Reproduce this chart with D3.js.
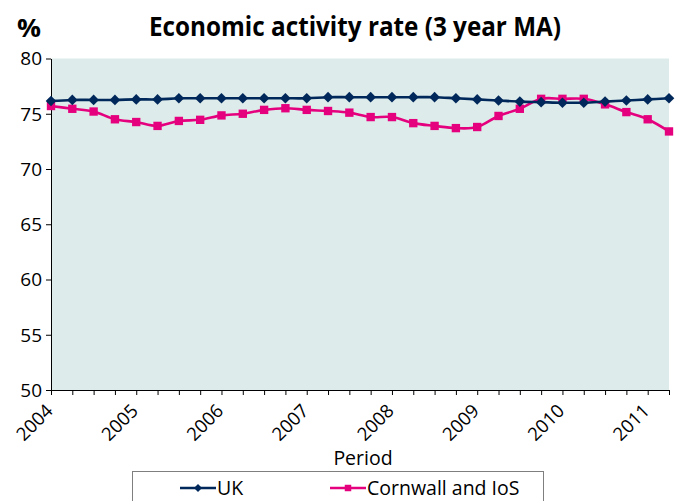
<!DOCTYPE html>
<html>
<head>
<meta charset="utf-8">
<script src="https://cdn.jsdelivr.net/npm/d3@7"></script>
<style>
  html, body { margin: 0; padding: 0; background: #ffffff; }
  svg { display: block; }
  text { font-family: "Open Sans", "DejaVu Sans", sans-serif; fill: #000; }
</style>
</head>
<body>
<svg id="chart" width="676" height="501"></svg>
<script>
// Quarterly periods, 2004 Q1 to 2011 Q2
const periods = [
  "2004Q1","2004Q2","2004Q3","2004Q4",
  "2005Q1","2005Q2","2005Q3","2005Q4",
  "2006Q1","2006Q2","2006Q3","2006Q4",
  "2007Q1","2007Q2","2007Q3","2007Q4",
  "2008Q1","2008Q2","2008Q3","2008Q4",
  "2009Q1","2009Q2","2009Q3","2009Q4",
  "2010Q1","2010Q2","2010Q3","2010Q4",
  "2011Q1","2011Q2"
];

// Economic activity rate, 3 year moving average (%)
const ukValues = [
  76.15, 76.25, 76.25, 76.25, 76.3, 76.3, 76.4, 76.4,
  76.4, 76.4, 76.4, 76.4, 76.4, 76.5, 76.5, 76.5,
  76.5, 76.5, 76.5, 76.4, 76.3, 76.2, 76.1, 76.05,
  76.0, 76.0, 76.1, 76.2, 76.3, 76.4
];
const cornwallValues = [
  75.7, 75.45, 75.2, 74.5, 74.25, 73.9, 74.35, 74.45,
  74.85, 75.0, 75.35, 75.5, 75.35, 75.25, 75.1, 74.7,
  74.7, 74.15, 73.9, 73.7, 73.8, 74.8, 75.45, 76.35,
  76.35, 76.35, 75.85, 75.15, 74.5, 73.4
];

// Axis tick labels
const yTicks = [50, 55, 60, 65, 70, 75, 80];
const yearLabels = ["2004","2005","2006","2007","2008","2009","2010","2011"];
const yearStarts = ["2004Q1","2005Q1","2006Q1","2007Q1","2008Q1","2009Q1","2010Q1","2011Q1"];

const seriesNames = ["UK", "Cornwall and IoS"];
const colours = { uk: "#00285a", cornwall: "#e5007e" };

const svg = d3.select("#chart");
const plot = { left: 51, right: 669, top: 58.5, bottom: 390 };

const x = d3.scalePoint().domain(periods).range([plot.left, plot.right]);
const y = d3.scaleLinear().domain([50, 80]).range([plot.bottom, plot.top]);

// Plot background
svg.append("rect")
  .attr("x", plot.left).attr("y", plot.top)
  .attr("width", plot.right - plot.left)
  .attr("height", plot.bottom - plot.top)
  .attr("fill", "#ddebeb");

// Y axis
const yAxis = svg.append("g")
  .attr("transform", `translate(${plot.left},0)`)
  .call(d3.axisLeft(y).tickValues(yTicks).tickSize(5).tickPadding(4).tickSizeOuter(0));
yAxis.selectAll("text").style("font-size", "19px").attr("dy", "0.34em");
yAxis.select(".domain").attr("stroke", "#000");

// X axis: a tick every quarter, labels at the start of each year
const xAxis = svg.append("g")
  .attr("transform", `translate(0,${plot.bottom})`)
  .call(d3.axisBottom(x).tickSize(5).tickSizeOuter(0).tickFormat(""));
xAxis.select(".domain").attr("d", `M${plot.left},0.5H${plot.right + 1}`).attr("stroke", "#000");

svg.append("g")
  .selectAll("text")
  .data(yearLabels)
  .join("text")
  .attr("transform", (d, i) => `translate(${x(yearStarts[i]) + 3},${plot.bottom + 22}) rotate(-45)`)
  .attr("text-anchor", "end")
  .style("font-size", "18.5px")
  .text(d => d);

// Lines
const line = d3.line()
  .x((d, i) => x(periods[i]))
  .y(d => y(d))
  .curve(d3.curveCatmullRom.alpha(0));

svg.append("path")
  .datum(cornwallValues)
  .attr("d", line)
  .attr("fill", "none")
  .attr("stroke", colours.cornwall)
  .attr("stroke-width", 2.6);

svg.append("path")
  .datum(ukValues)
  .attr("d", line)
  .attr("fill", "none")
  .attr("stroke", colours.uk)
  .attr("stroke-width", 2.6);

// Markers
const diamond = d3.symbol().type(d3.symbolDiamond2).size(72);
const square = d3.symbol().type(d3.symbolSquare).size(70);

svg.append("g")
  .selectAll("path")
  .data(cornwallValues)
  .join("path")
  .attr("d", square)
  .attr("transform", (d, i) => `translate(${x(periods[i])},${y(d)})`)
  .attr("fill", colours.cornwall);

svg.append("g")
  .selectAll("path")
  .data(ukValues)
  .join("path")
  .attr("d", diamond)
  .attr("transform", (d, i) => `translate(${x(periods[i])},${y(d)})`)
  .attr("fill", colours.uk);

// Titles
svg.append("text")
  .attr("x", 17).attr("y", 37)
  .style("font-size", "25px").style("font-weight", "bold")
  .attr("textLength", 24).attr("lengthAdjust", "spacingAndGlyphs")
  .text("%");

svg.append("text")
  .attr("x", 149).attr("y", 36)
  .style("font-size", "26px").style("font-weight", "bold")
  .attr("textLength", 412).attr("lengthAdjust", "spacingAndGlyphs")
  .text("Economic activity rate (3 year MA)");

svg.append("text")
  .attr("x", 363).attr("y", 465)
  .attr("text-anchor", "middle")
  .style("font-size", "19.5px")
  .text("Period");

// Legend
const legend = svg.append("g");
legend.append("rect")
  .attr("x", 132.5).attr("y", 471.5)
  .attr("width", 411).attr("height", 40)
  .attr("fill", "#fff").attr("stroke", "#7f7f7f").attr("stroke-width", 1);

const legendItems = [
  { name: seriesNames[0], colour: colours.uk, type: d3.symbolDiamond2, x0: 180 },
  { name: seriesNames[1], colour: colours.cornwall, type: d3.symbolSquare, x0: 330 }
];
const ly = 488;
legendItems.forEach(item => {
  legend.append("line")
    .attr("x1", item.x0).attr("x2", item.x0 + 36)
    .attr("y1", ly).attr("y2", ly)
    .attr("stroke", item.colour).attr("stroke-width", 2.6);
  legend.append("path")
    .attr("d", d3.symbol().type(item.type).size(42))
    .attr("transform", `translate(${item.x0 + 18},${ly})`)
    .attr("fill", item.colour);
  legend.append("text")
    .attr("x", item.x0 + 37).attr("y", ly + 7)
    .style("font-size", "19.5px")
    .text(item.name);
});
</script>
</body>
</html>
